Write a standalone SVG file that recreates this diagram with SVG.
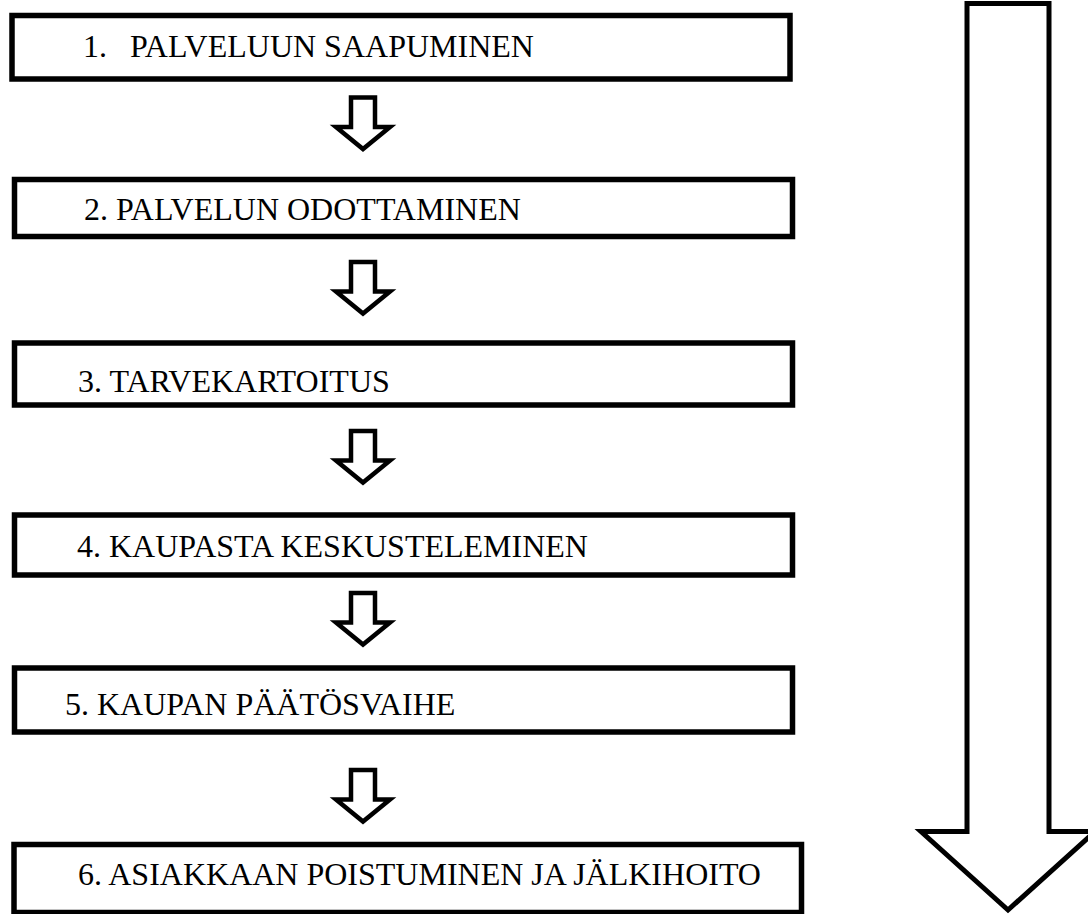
<svg xmlns="http://www.w3.org/2000/svg" width="1088" height="914" viewBox="0 0 1088 914">
<defs>
<style>
.box{fill:#fff;stroke:#000;stroke-width:5.5}
.arr{fill:#fff;stroke:#000;stroke-width:4.5;stroke-linejoin:miter}
.big{fill:#fff;stroke:#000;stroke-width:5;stroke-linejoin:miter}
.t{font-family:"Liberation Serif","Times New Roman",serif;font-size:32px;fill:#000}
</style>
<path id="sa" class="arr" d="M351,0 H375 V29.5 H390 L363,51.5 L336,29.5 H351 Z"/>
</defs>
<rect width="1088" height="914" fill="#fff"/>
<g id="bigarrow">
<path class="big" d="M967,3.5 H1049 V831.5 H1095 L1008,910 L921,831.5 H967 Z"/>
</g>
<g id="connectors">
<use href="#sa" y="97.5"/>
<use href="#sa" y="262"/>
<use href="#sa" y="431"/>
<use href="#sa" y="593"/>
<use href="#sa" y="770"/>
</g>
<g id="n1"><rect class="box" x="12" y="15.5" width="778" height="63.5"/><text class="t" x="83" y="57">1.<tspan x="130">PALVELUUN SAAPUMINEN</tspan></text></g>
<g id="n2"><rect class="box" x="14.5" y="179.5" width="778" height="57"/><text class="t" x="84" y="220">2. PALVELUN ODOTTAMINEN</text></g>
<g id="n3"><rect class="box" x="14.5" y="343" width="778" height="62"/><text class="t" x="78" y="392">3. TARVEKARTOITUS</text></g>
<g id="n4"><rect class="box" x="14.5" y="515" width="778" height="60"/><text class="t" x="77" y="557">4. KAUPASTA KESKUSTELEMINEN</text></g>
<g id="n5"><rect class="box" x="14.5" y="668" width="778" height="64"/><text class="t" x="65" y="715">5. KAUPAN PÄÄTÖSVAIHE</text></g>
<g id="n6"><rect class="box" x="14" y="844.5" width="787.5" height="68"/><text class="t" x="78" y="885">6. ASIAKKAAN POISTUMINEN JA JÄLKIHOITO</text></g>
</svg>
